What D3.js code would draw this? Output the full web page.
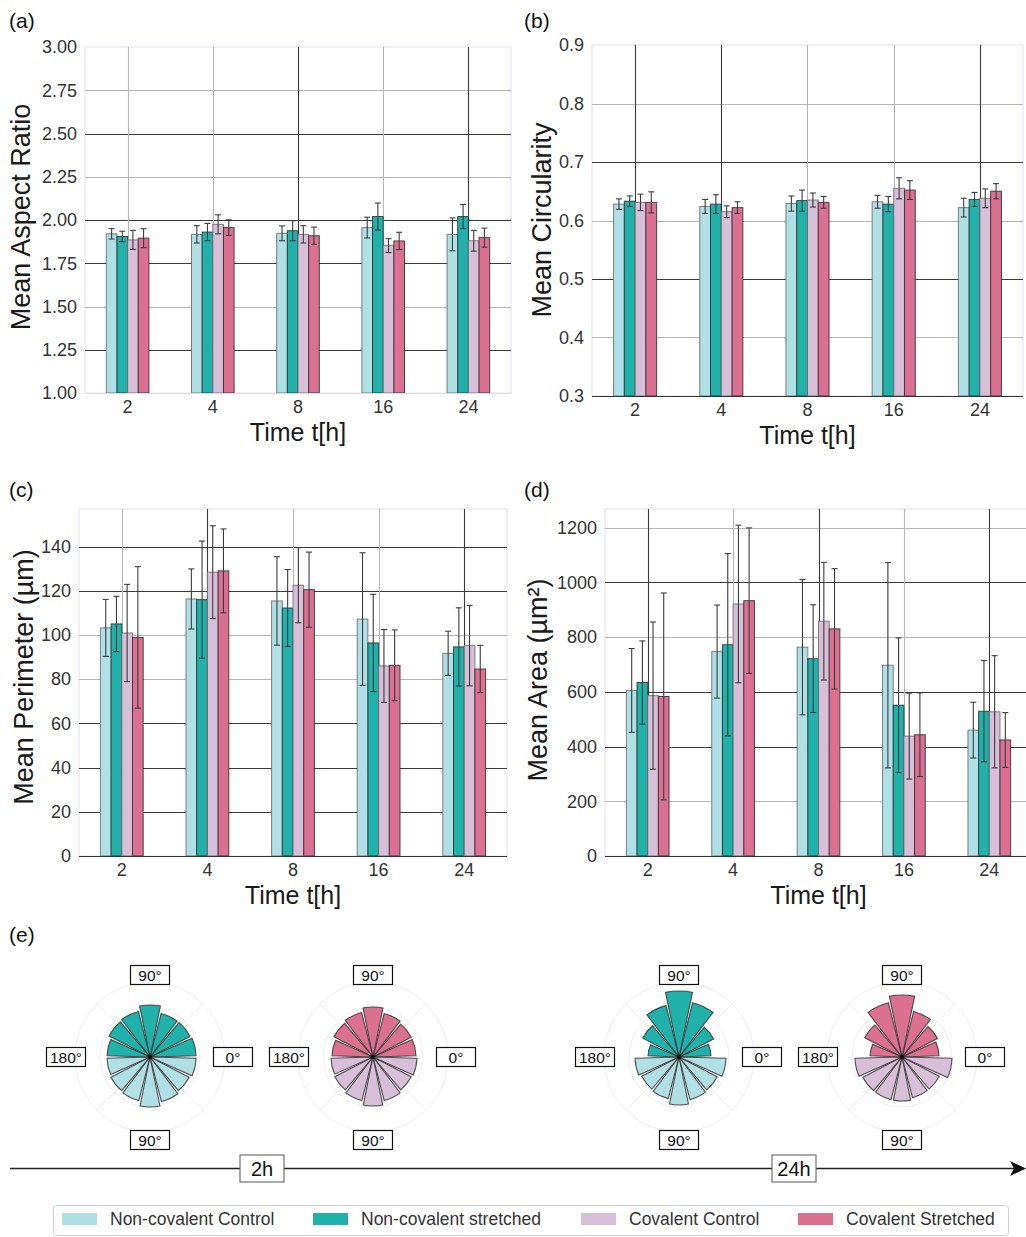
<!DOCTYPE html>
<html><head><meta charset="utf-8">
<script src="https://cdn.jsdelivr.net/npm/d3@7"></script>
<style>
body{margin:0;background:#fff;}
svg text{font-family:"Liberation Sans",Arial,sans-serif;}
</style></head>
<body><svg id="c" width="1026" height="1237"></svg>
<script>
// ---------- DATA ----------
const categories = ["2","4","8","16","24"];
const seriesNames = ["Non-covalent Control","Non-covalent stretched","Covalent Control","Covalent Stretched"];
const seriesColors = ["#b0e0e6","#20b2aa","#d8bfd8","#db7093"];

// (a) Mean Aspect Ratio  (per series, per time point)
const aspectMean = [
  [1.92, 1.917, 1.923, 1.956, 1.917],
  [1.905, 1.93, 1.938, 2.02, 2.02],
  [1.885, 1.975, 1.917, 1.852, 1.88],
  [1.895, 1.956, 1.909, 1.879, 1.898]];
const aspectErr = [
  [0.03, 0.05, 0.043, 0.06, 0.095],
  [0.03, 0.05, 0.058, 0.078, 0.07],
  [0.055, 0.055, 0.05, 0.04, 0.06],
  [0.055, 0.045, 0.05, 0.05, 0.055]];
const aspectTicks = [1.00,1.25,1.50,1.75,2.00,2.25,2.50,2.75,3.00];

// (b) Mean Circularity
const circMean = [
  [0.628, 0.624, 0.629, 0.632, 0.622],
  [0.633, 0.628, 0.634, 0.628, 0.636],
  [0.631, 0.615, 0.635, 0.655, 0.638],
  [0.631, 0.622, 0.631, 0.652, 0.650]];
const circErr = [
  [0.009, 0.012, 0.013, 0.011, 0.016],
  [0.009, 0.016, 0.018, 0.013, 0.012],
  [0.014, 0.010, 0.012, 0.018, 0.016],
  [0.018, 0.010, 0.010, 0.016, 0.013]];
const circTicks = [0.3,0.4,0.5,0.6,0.7,0.8,0.9];

// (c) Mean Perimeter (µm)
const perimMean = [
  [103.2, 116.3, 115.4, 107.2, 91.7],
  [105.0, 116.0, 112.2, 96.4, 94.6],
  [100.9, 128.4, 122.5, 86.0, 95.2],
  [98.9, 129.0, 120.5, 86.3, 84.6]];
const perimErr = [
  [12.9, 13.6, 20.0, 30.0, 10.0],
  [12.5, 26.5, 17.4, 22.0, 17.7],
  [22.0, 21.0, 17.0, 16.5, 18.2],
  [32.0, 19.0, 17.0, 16.0, 10.7]];
const perimTicks = [0,20,40,60,80,100,120,140];

// (d) Mean Area (µm²)
const areaMean = [
  [605, 747, 763, 697, 460],
  [634, 772, 721, 551, 529],
  [586, 921, 858, 438, 527],
  [583, 933, 830, 443, 424]];
const areaErr = [
  [153, 170, 247, 375, 102],
  [152, 333, 197, 246, 185],
  [269, 288, 215, 157, 205],
  [378, 266, 220, 153, 100]];
const areaTicks = [0,200,400,600,800,1000,1200];

// (e) orientation roses: 7 bins over 0°–180° (counter-clockwise from 0°)
const roseBins = [0,1,2,3,4,5,6];
const roseTimes = ["2h","24h"];
// stretched (upper half) and control (lower half, listed from 180° to 360°)
const rose2hNonCovStretched = [46, 45, 45, 52, 47, 46, 43];
const rose2hNonCovControl   = [43, 44, 45, 50, 46, 44, 46];
const rose2hCovStretched    = [43, 43, 45, 50, 46, 44, 41];
const rose2hCovControl      = [42, 43, 45, 49, 45, 43, 44];
const rose24hNonCovStretched= [32, 39, 56, 66, 53, 41, 31];
const rose24hNonCovControl  = [44, 42, 43, 48, 44, 43, 47];
const rose24hCovStretched   = [37, 40, 47, 62, 56, 42, 32];
const rose24hCovControl     = [47, 44, 44, 44, 42, 42, 50];

// ---------- DRAW ----------
const svg = d3.select("#c");
const gridDark = "#3a3a3a", gridLight = "#b5b5b5";

function panel(cfg){
  const g = svg.append("g");
  const x = d3.scaleBand().domain(categories).range([cfg.left,cfg.right]).paddingInner(0.5).paddingOuter(0.25);
  const xi = d3.scaleBand().domain(d3.range(seriesNames.length)).range([0,x.bandwidth()]);
  const y = d3.scaleLinear().domain(cfg.domain).range([cfg.bottom,cfg.top]);
  const clipId = "clip"+cfg.id;
  svg.append("clipPath").attr("id",clipId).append("rect")
    .attr("x",cfg.left).attr("y",cfg.top).attr("width",cfg.right-cfg.left).attr("height",cfg.bottom-cfg.top);
  g.append("rect").attr("x",cfg.left).attr("y",cfg.top).attr("width",cfg.right-cfg.left).attr("height",cfg.bottom-cfg.top)
    .attr("fill","none").attr("stroke","#e2e2ea").attr("stroke-width",1);
  cfg.ticks.forEach((t,i)=>{
    if(i===0) return;
    const yy = Math.round(y(t))+0.5;
    if(yy < cfg.top+1) return;
    g.append("line").attr("x1",cfg.left).attr("x2",cfg.right).attr("y1",yy).attr("y2",yy)
      .attr("stroke", cfg.hStyle[i]?gridDark:gridLight).attr("stroke-width",1.1);
  });
  categories.forEach((c,i)=>{
    const xx = Math.round(x(c)+x.bandwidth()/2)+0.5;
    g.append("line").attr("x1",xx).attr("x2",xx).attr("y1",cfg.top).attr("y2",cfg.bottom)
      .attr("stroke", cfg.vStyle[i]?gridDark:gridLight).attr("stroke-width",1.1);
  });
  g.append("line").attr("x1",cfg.left).attr("x2",cfg.right).attr("y1",cfg.bottom+0.5).attr("y2",cfg.bottom+0.5)
    .attr("stroke",cfg.darkBottom?"#333":"#dcdce4").attr("stroke-width",1.2);
  const bars = g.append("g").attr("clip-path",`url(#${clipId})`);
  cfg.mean.forEach((ser,si)=>{
    ser.forEach((v,ci)=>{
      const bx = x(categories[ci]) + xi(si);
      bars.append("rect").attr("x",bx).attr("y",y(v)).attr("width",xi.bandwidth()).attr("height",y(cfg.domain[0])-y(v))
        .attr("fill",seriesColors[si]).attr("stroke",si%2? "#2b2b2b":"#6a6a6a").attr("stroke-width",1).attr("stroke-opacity",0.85);
    });
  });
  cfg.mean.forEach((ser,si)=>{
    ser.forEach((v,ci)=>{
      const cx = x(categories[ci]) + xi(si) + xi.bandwidth()/2;
      const e = cfg.err[si][ci];
      const y1 = y(v+e), y2 = y(v-e);
      const eg = bars.append("g").attr("stroke","#3c3c3c").attr("stroke-width",1.1);
      eg.append("line").attr("x1",cx).attr("x2",cx).attr("y1",y1).attr("y2",y2);
      eg.append("line").attr("x1",cx-3).attr("x2",cx+3).attr("y1",y1).attr("y2",y1);
      eg.append("line").attr("x1",cx-3).attr("x2",cx+3).attr("y1",y2).attr("y2",y2);
    });
  });
  cfg.ticks.forEach(t=>{
    g.append("text").attr("x",cfg.left-8).attr("y",y(t)).attr("dy","0.35em").attr("text-anchor","end")
      .attr("font-size",18).attr("fill","#333").text(cfg.fmt(t));
  });
  categories.forEach(c=>{
    g.append("text").attr("x",x(c)+x.bandwidth()/2).attr("y",cfg.bottom+20).attr("text-anchor","middle")
      .attr("font-size",18).attr("fill","#333").text(c);
  });
  g.append("text").attr("transform",`translate(${cfg.yTitleX},${cfg.yTitleY}) rotate(-90)`)
    .attr("text-anchor","middle").attr("dy","0.35em").attr("font-size",27).attr("fill","#1a1a1a").text(cfg.yTitle);
  g.append("text").attr("x",(cfg.left+cfg.right)/2).attr("y",cfg.bottom+48).attr("text-anchor","middle")
    .attr("font-size",25).attr("fill","#1a1a1a").text("Time t[h]");
  svg.append("text").attr("x",cfg.labX).attr("y",cfg.labY).attr("font-size",21).attr("fill","#111").text(cfg.label);
}

panel({id:"a",label:"(a)",labX:9,labY:28,left:85,right:511,top:47,bottom:393,domain:[1,3],ticks:aspectTicks,
  fmt:d3.format(".2f"),mean:aspectMean,err:aspectErr,yTitle:"Mean Aspect Ratio",yTitleX:21,yTitleY:217,
  hStyle:[0,1,0,1,1,0,1,0,0],vStyle:[0,0,1,0,1],darkBottom:false});
panel({id:"b",label:"(b)",labX:524,labY:28,left:592,right:1023,top:45,bottom:396,domain:[0.3,0.9],ticks:circTicks,
  fmt:d3.format(".1f"),mean:circMean,err:circErr,yTitle:"Mean Circularity",yTitleX:542,yTitleY:220,
  hStyle:[0,0,1,0,1,0,0],vStyle:[1,1,0,0,1],darkBottom:true});
panel({id:"c",label:"(c)",labX:9,labY:497,left:79,right:507,top:509,bottom:856,domain:[0,157],ticks:perimTicks,
  fmt:d3.format("d"),mean:perimMean,err:perimErr,yTitle:"Mean Perimeter (µm)",yTitleX:24,yTitleY:677,
  hStyle:[0,1,1,1,0,0,1,1],vStyle:[0,1,0,0,1],darkBottom:true});
panel({id:"d",label:"(d)",labX:524,labY:497,left:605,right:1032,top:509,bottom:856,domain:[0,1268],ticks:areaTicks,
  fmt:d3.format("d"),mean:areaMean,err:areaErr,yTitle:"Mean Area (µm²)",yTitleX:538,yTitleY:680,
  hStyle:[0,0,1,1,0,1,0],vStyle:[1,0,1,0,1],darkBottom:true});

// ---------- (e) roses ----------
svg.append("text").attr("x",9).attr("y",942).attr("font-size",21).attr("fill","#111").text("(e)");

const roses = [
  {cx:150,cy:1057,top:rose2hNonCovStretched,bottom:rose2hNonCovControl,ct:seriesColors[1],cb:seriesColors[0]},
  {cx:373,cy:1057,top:rose2hCovStretched,bottom:rose2hCovControl,ct:seriesColors[3],cb:seriesColors[2]},
  {cx:679,cy:1057,top:rose24hNonCovStretched,bottom:rose24hNonCovControl,ct:seriesColors[1],cb:seriesColors[0]},
  {cx:902,cy:1057,top:rose24hCovStretched,bottom:rose24hCovControl,ct:seriesColors[3],cb:seriesColors[2]}
];
const rScale = d3.scaleLinear().domain([0,75]).range([0,75]);
const binW = Math.PI/roseBins.length;
const arc = d3.arc().innerRadius(0).padAngle(0.06).padRadius(40);
function labelBox(g,x,y,txt){
  g.append("rect").attr("x",x-19.5).attr("y",y-9.5).attr("width",39).attr("height",19)
    .attr("fill","#fff").attr("stroke","#111").attr("stroke-width",1.2);
  g.append("text").attr("x",x).attr("y",y).attr("dy","0.37em").attr("text-anchor","middle")
    .attr("font-family","DejaVu Sans").attr("font-size",15.5).attr("fill","#111").text(txt);
}
roses.forEach(r=>{
  const g = svg.append("g").attr("transform",`translate(${r.cx},${r.cy})`);
  [25,50,75].forEach(rr=>g.append("circle").attr("r",rScale(rr)).attr("fill","none").attr("stroke","#efefef").attr("stroke-width",1));
  [45,135,225,315].forEach(a=>{
    const t=a*Math.PI/180;
    g.append("line").attr("x1",0).attr("y1",0).attr("x2",75*Math.cos(t)).attr("y2",-75*Math.sin(t))
      .attr("stroke","#efefef").attr("stroke-width",1);
  });
  roseBins.forEach(i=>{
    const t0 = i*binW, t1=(i+1)*binW;
    g.append("path").attr("d",arc({outerRadius:rScale(r.top[i]),startAngle:Math.PI/2-t1,endAngle:Math.PI/2-t0}))
      .attr("fill",r.ct).attr("stroke","#333").attr("stroke-width",1.1).attr("stroke-opacity",0.85);
    const b0 = Math.PI + i*binW, b1 = Math.PI+(i+1)*binW;
    g.append("path").attr("d",arc({outerRadius:rScale(r.bottom[i]),startAngle:Math.PI/2-b1,endAngle:Math.PI/2-b0}))
      .attr("fill",r.cb).attr("stroke","#333").attr("stroke-width",1.1).attr("stroke-opacity",0.85);
  });
  g.append("circle").attr("r",2.2).attr("fill","#111");
  labelBox(g,0,-82,"90°");
  labelBox(g,0,83,"90°");
  labelBox(g,-84,0,"180°");
  labelBox(g,83,0,"0°");
});

// timeline arrow
svg.append("line").attr("x1",10).attr("x2",1014).attr("y1",1168.5).attr("y2",1168.5).attr("stroke","#222").attr("stroke-width",1.6);
svg.append("path").attr("d","M1010,1161 L1026,1168.5 L1010,1176 L1014,1168.5 Z").attr("fill","#111");
[{x:262,t:roseTimes[0]},{x:794,t:roseTimes[1]}].forEach(b=>{
  svg.append("rect").attr("x",b.x-22).attr("y",1155).attr("width",44).attr("height",27).attr("fill","#fff").attr("stroke","#555").attr("stroke-width",1);
  svg.append("text").attr("x",b.x).attr("y",1168.5).attr("dy","0.36em").attr("text-anchor","middle")
    .attr("font-family","DejaVu Sans Condensed, DejaVu Sans").attr("font-stretch","condensed").attr("font-size",20).attr("fill","#111").text(b.t);
});

// legend
const lg = svg.append("g");
lg.append("rect").attr("x",53.5).attr("y",1205.5).attr("width",955).attr("height",30).attr("rx",3)
  .attr("fill","#fff").attr("stroke","#cfcfcf").attr("stroke-width",1);
const legX = [62,313,581,798];
seriesNames.forEach((n,i)=>{
  lg.append("rect").attr("x",legX[i]).attr("y",1213).attr("width",35).attr("height",12).attr("fill",seriesColors[i]);
  lg.append("text").attr("x",legX[i]+48).attr("y",1219).attr("dy","0.36em").attr("font-size",17.5).attr("fill","#333").text(n);
});
</script></body></html>
